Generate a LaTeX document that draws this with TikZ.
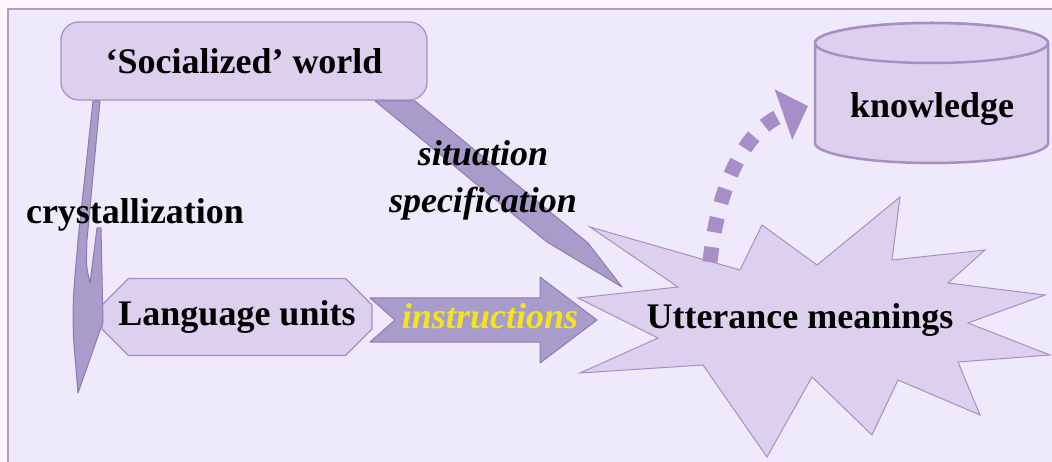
\documentclass[tikz,border=0pt]{standalone}
\usepackage{fontspec}
\setmainfont{Liberation Serif}
\usetikzlibrary{positioning}
\usetikzlibrary{shapes.misc}
\usetikzlibrary{arrows.meta}
\definecolor{bg}{HTML}{EFEAFB}
\definecolor{framecol}{HTML}{B898C8}
\definecolor{boxfill}{HTML}{DCD0EE}
\definecolor{boxline}{HTML}{A590C2}
\definecolor{arrfill}{HTML}{A89CCA}
\definecolor{arrline}{HTML}{8A7CB2}
\definecolor{dotcol}{HTML}{A88EC6}
\definecolor{instr}{HTML}{F4E41C}
\tikzset{txt/.style={font=\fontsize{36}{47}\selectfont\bfseries,inner sep=0pt}}
\tikzset{itxt/.style={txt,font=\fontsize{36}{47}\selectfont\bfseries\itshape}}
\tikzset{box/.style={draw=boxline,fill=boxfill,line width=1.2pt}}
\tikzset{fat/.style={draw=arrline,fill=arrfill,line width=1pt,line join=round}}

\begin{document}
\begin{tikzpicture}[x=1pt,y=-1pt]
        \useasboundingbox (0,0) rectangle (1052,462);
        \fill[white!70!bg] (0,0) rectangle (1052,462);
        \draw[framecol,line width=2pt,fill=bg] (8,9) rectangle (1070,480);

        % the burst
        \draw[box,line width=1pt] (590,227) -- (678,287) -- (578,298) -- (658,338)
            -- (580,373) -- (703,365) -- (767,457) -- (812,377) -- (872,435)
            -- (898,380) -- (980,415) -- (958,362) -- (1050,355) -- (968,323)
            -- (1045,295) -- (948,283) -- (985,250) -- (892,260) -- (900,197)
            -- (817,265) -- (762,225) -- (740,270) -- cycle;

        \node[box,txt,rounded corners=18pt,minimum width=366pt,minimum height=78pt] (W) at (244,61) {‘Socialized’ world};
        \node[box,txt,chamfered rectangle,chamfered rectangle xsep=79pt,chamfered rectangle ysep=10pt,
            minimum width=263pt,minimum height=77pt] (L) at (237,317) {Language units};

        % the store
        \draw[box,line width=2.5pt] (815,43) -- (815,143) arc[start angle=180,end angle=0,x radius=116.5,y radius=20]
            -- (1048,43) arc[start angle=0,end angle=-180,x radius=116.5,y radius=20] -- cycle;
        \draw[box,line width=2.5pt] (931.5,43) ellipse[x radius=116.5,y radius=20];

        % arrows
        \draw[fat] (375,101) -- (415,101) -- (588,243) -- (622,287) -- (547,242) -- cycle;
        \draw[fat] (370,298) -- (540,298) -- (540,277) -- (597,320) -- (540,363)
            -- (540,342) -- (370,342) -- (395,320) -- cycle;
        \draw[fat] (93,101) -- (100,101) -- (87,240) .. controls (86,265) .. (90,283)
            -- (97,228) -- (101,228) -- (103,322) -- (78,393) -- (74,345)
            .. controls (71,300) and (76,270) .. (78,240) -- cycle;

        \coordinate (Utop) at (710,262);
        \coordinate (Kin) at (808,106);
        \draw[dotcol,line width=15pt,dash pattern=on 15pt off 15pt,
            -{Triangle[length=26pt,width=52pt]}] (Utop) .. controls (718,185) and (745,128) .. (Kin);

        % labels
        \node[txt] (K) at (932,109) {knowledge};
        \node[txt] (U) at (800,320) {Utterance meanings};
        \node[txt] (C) at (135,215) {crystallization};
        \node[itxt,align=center] (S) at (483,180) {situation\\specification};
        \node[itxt,text=instr] (I) at (490,316) {instructions};
    \end{tikzpicture}
\end{document}
